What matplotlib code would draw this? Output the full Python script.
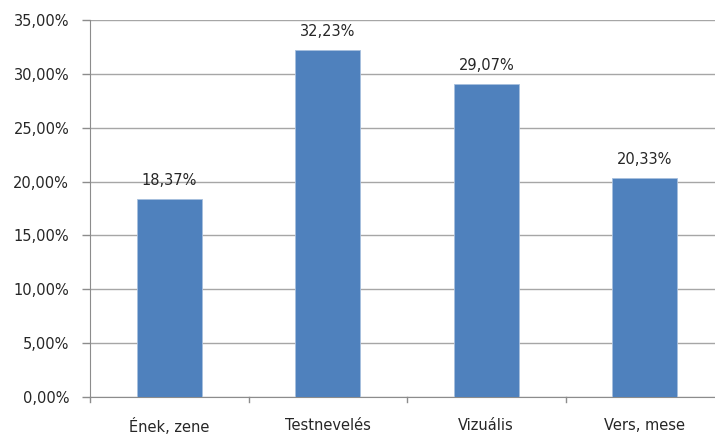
import matplotlib.pyplot as plt
import numpy as np

categories = ['Ének, zene', 'Testnevelés', 'Vizuális', 'Vers, mese']
values = [18.37, 32.23, 29.07, 20.33]
yticks = [0, 5, 10, 15, 20, 25, 30, 35]


def pct(v):
    return f'{v:.2f}%'.replace('.', ',')


fig = plt.figure(figsize=(7.15, 4.34), dpi=100)
ax = fig.add_axes([90 / 715, 37 / 434, 634 / 715, 377 / 434])

x = np.arange(len(categories))
bars = ax.bar(x, values, width=0.41, color='#4F81BD', edgecolor='#A7BFDE',
              linewidth=0.6, zorder=3)

for b, v in zip(bars, values):
    ax.text(b.get_x() + b.get_width() / 2, v + 1.0, pct(v),
            ha='center', va='bottom', fontsize=10.5, color='#262626')

ax.set_xlim(-0.5, len(categories) - 0.5)
ax.set_ylim(0, 35)
ax.set_yticks(yticks)
ax.set_yticklabels([pct(t) for t in yticks], fontsize=10.5, color='#262626')
ax.set_xticks(x)
ax.set_xticklabels(categories, fontsize=10.5, color='#262626')
ax.tick_params(axis='x', length=0, pad=15)
ax.tick_params(axis='y', length=6, width=1, color='#8C8C8C', pad=9)

# category separator ticks on the x axis
for s in np.arange(-0.5, len(categories), 1.0):
    ax.plot([s, s], [0, -0.5], color='#8C8C8C', lw=1, clip_on=False, zorder=4)

ax.yaxis.grid(True, color='#A6A6A6', lw=1, zorder=0)
for side in ['top', 'right']:
    ax.spines[side].set_visible(False)
ax.spines['left'].set_color('#8C8C8C')
ax.spines['bottom'].set_color('#8C8C8C')

plt.savefig('out.png', dpi=100)
